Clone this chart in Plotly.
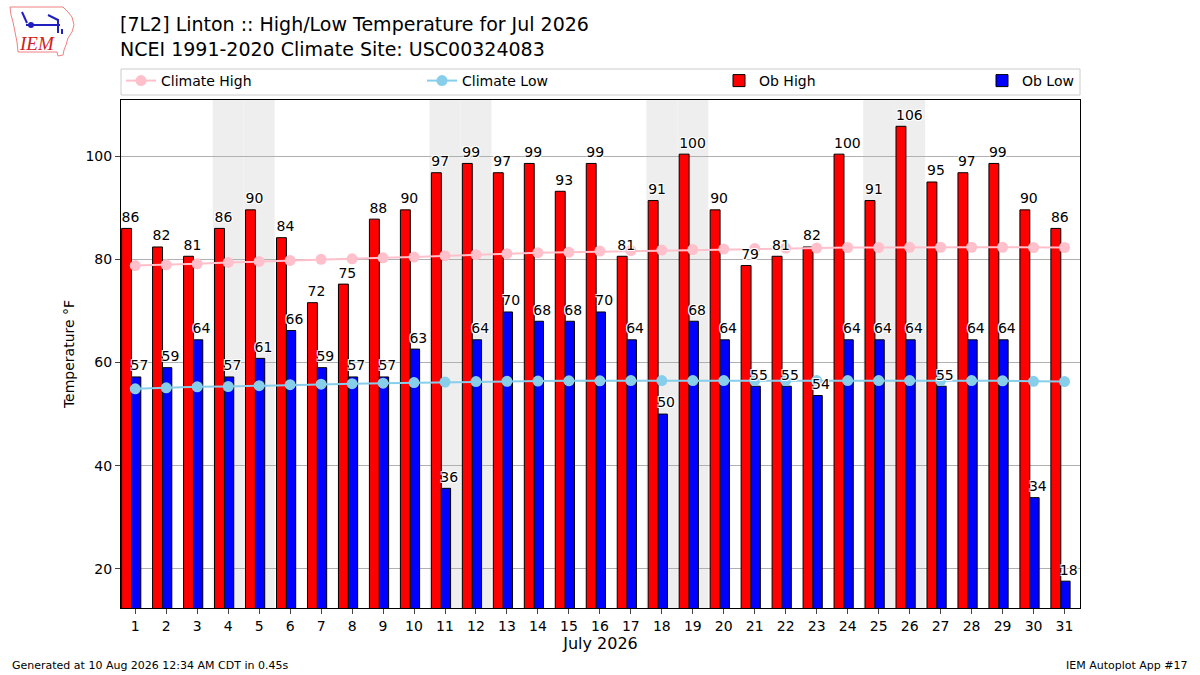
import datetime
import plotly.graph_objects as go

# July 2026 daily observations (deg F)
days = list(range(1, 32))
ob_high = [86.0, 82.4, 80.6, 86.0, 89.6, 84.2, 71.6, 75.2, 87.8, 89.6,
           96.8, 98.6, 96.8, 98.6, 93.2, 98.6, 80.6, 91.4, 100.4, 89.6,
           78.8, 80.6, 82.4, 100.4, 91.4, 105.8, 95.0, 96.8, 98.6, 89.6, 86.0]
ob_low = [57.2, 59.0, 64.4, 57.2, 60.8, 66.2, 59.0, 57.2, 57.2, 62.6,
          35.6, 64.4, 69.8, 68.0, 68.0, 69.8, 64.4, 50.0, 68.0, 64.4,
          55.4, 55.4, 53.6, 64.4, 64.4, 64.4, 55.4, 64.4, 64.4, 33.8, 17.6]
climate_high = [78.8, 78.95, 79.15, 79.4, 79.6, 79.8, 80.0, 80.1, 80.3, 80.45,
                80.7, 80.9, 81.1, 81.3, 81.4, 81.6, 81.7, 81.8, 81.9, 82.0,
                82.1, 82.2, 82.2, 82.3, 82.3, 82.35, 82.35, 82.35, 82.35, 82.3, 82.3]
climate_low = [54.9, 55.1, 55.3, 55.35, 55.5, 55.7, 55.8, 55.9, 56.0, 56.1,
               56.2, 56.3, 56.35, 56.4, 56.45, 56.45, 56.5, 56.5, 56.5, 56.5,
               56.5, 56.5, 56.5, 56.5, 56.5, 56.5, 56.5, 56.5, 56.45, 56.35, 56.3]

title = ("[7L2] Linton :: High/Low Temperature for Jul 2026<br>"
         "NCEI 1991-2020 Climate Site: USC00324083")

FONT = "DejaVu Sans"
W, H = 1200, 675
L, R, T, B = 121, 120, 100, 67
PW, PH = W - L - R, H - T - B


def px(x):
    # page pixel -> paper x
    return (x - L) / PW


def py(y):
    # page pixel (from top) -> paper y
    return 1 + (T - y) / PH


HI_OFF, HI_W = -0.44, 0.32
LO_OFF, LO_W = -0.12, 0.30
halo = "1px 1px 0 white, -1px -1px 0 white, 1px -1px 0 white, -1px 1px 0 white"

fig = go.Figure()

# observed bars
fig.add_trace(go.Bar(x=days, y=ob_high, offset=HI_OFF, width=HI_W,
                     marker=dict(color="red", line=dict(color="black", width=1)),
                     name="Ob High", legend="legend3"))
fig.add_trace(go.Bar(x=days, y=ob_low, offset=LO_OFF, width=LO_W,
                     marker=dict(color="blue", line=dict(color="black", width=1)),
                     name="Ob Low", legend="legend4"))

# climatology lines
fig.add_trace(go.Scatter(x=days, y=climate_high, mode="lines+markers",
                         line=dict(color="pink", width=2),
                         marker=dict(color="pink", size=11),
                         name="Climate High", legend="legend"))
fig.add_trace(go.Scatter(x=days, y=climate_low, mode="lines+markers",
                         line=dict(color="skyblue", width=2),
                         marker=dict(color="skyblue", size=11),
                         name="Climate Low", legend="legend2"))

# value labels, left aligned on each bar
for xs, vals in (([d + HI_OFF for d in days], ob_high),
                 ([d + LO_OFF - 0.03 for d in days], ob_low)):
    fig.add_trace(go.Scatter(x=xs, y=[v + 0.6 for v in vals], mode="text",
                             text=[f"{v:.0f}" for v in vals], textposition="top right",
                             textfont=dict(family=FONT, size=14, color="black", shadow=halo),
                             showlegend=False, hoverinfo="skip", cliponaxis=False))

# weekend shading
for d in days:
    if datetime.date(2026, 7, d).weekday() >= 5:
        fig.add_shape(type="rect", xref="x", yref="paper", x0=d - 0.5, x1=d + 0.5,
                      y0=0, y1=1, fillcolor="#eeeeee", line_width=0, layer="below")

# legend frame
fig.add_shape(type="rect", xref="paper", yref="paper", x0=px(121), x1=px(1080),
              y0=py(95), y1=py(69), line=dict(color="#cccccc", width=1),
              fillcolor="rgba(0,0,0,0)")

# IEM logo (rough outline)
ax0, ay0 = px(0), py(0)
iowa = [(10, 7), (63, 7), (68, 12), (72, 17), (74, 25), (72, 32), (68, 38),
        (66, 45), (64, 50), (63, 55), (58, 56), (57, 52), (18, 52), (17, 42),
        (15, 32), (13, 22), (11, 15)]
path = "M " + " L ".join(f"{x},{-y}" for x, y in iowa) + " Z"
fig.add_shape(type="path", xref="paper", yref="paper", xsizemode="pixel",
              ysizemode="pixel", xanchor=ax0, yanchor=ay0, path=path,
              line=dict(color="#f08080", width=1))
for seg in [[(26, 25), (60, 25)], [(58, 19), (58, 33)], [(48, 15), (58, 20)],
            [(22, 12), (27, 23)], [(62, 29), (62, 34)]]:
    p = "M " + " L ".join(f"{x},{-y}" for x, y in seg)
    fig.add_shape(type="path", xref="paper", yref="paper", xsizemode="pixel",
                  ysizemode="pixel", xanchor=ax0, yanchor=ay0, path=p,
                  line=dict(color="#2020c0", width=2))
fig.add_shape(type="circle", xref="paper", yref="paper", xsizemode="pixel",
              ysizemode="pixel", xanchor=ax0, yanchor=ay0, x0=28, x1=34, y0=-28, y1=-22,
              fillcolor="#2020c0", line_width=0)

legend_common = dict(orientation="h", xanchor="left", yanchor="middle", y=py(81),
                     bgcolor="rgba(0,0,0,0)", borderwidth=0,
                     font=dict(family=FONT, size=14))

fig.update_layout(
    width=W, height=H,
    margin=dict(l=L, r=R, t=T, b=B, autoexpand=False),
    paper_bgcolor="white", plot_bgcolor="white",
    font=dict(family=FONT, size=13, color="black"),
    barmode="overlay",
    legend=dict(legend_common, x=px(121)),
    legend2=dict(legend_common, x=px(422)),
    legend3=dict(legend_common, x=px(719)),
    legend4=dict(legend_common, x=px(982)),
    xaxis=dict(range=[0.54, 31.5], tickmode="array", tickvals=days,
               ticks="outside", ticklen=5, showgrid=False, zeroline=False,
               showline=True, linecolor="black", linewidth=1, mirror=True,
               tickfont=dict(size=14),
               title=dict(text="July 2026", font=dict(size=16), standoff=4)),
    yaxis=dict(range=[12.4, 110.9], tickvals=[20, 40, 60, 80, 100],
               ticks="outside", ticklen=5, showgrid=True, gridcolor="#b0b0b0",
               zeroline=False, showline=True, linecolor="black", linewidth=1,
               mirror=True, tickfont=dict(size=14),
               title=dict(text="Temperature °F", font=dict(size=14), standoff=7)),
    annotations=[
        dict(text=title, xref="paper", yref="paper", x=px(118), y=py(36),
             xanchor="left", yanchor="middle", align="left", showarrow=False,
             font=dict(family=FONT, size=19, color="black")),
        dict(text="<i>IEM</i>", xref="paper", yref="paper", x=px(37), y=py(44),
             xanchor="center", yanchor="middle", showarrow=False,
             font=dict(family="Liberation Serif", size=19, color="#d02020")),
        dict(text="Generated at 10 Aug 2026 12:34 AM CDT in 0.45s", xref="paper",
             yref="paper", x=px(10), y=py(665), xanchor="left", yanchor="middle",
             showarrow=False, font=dict(size=11)),
        dict(text="IEM Autoplot App #17", xref="paper", yref="paper",
             x=px(1190), y=py(665), xanchor="right", yanchor="middle",
             showarrow=False, font=dict(size=11)),
    ],
)

fig.write_html("out.html", config={"displayModeBar": False},
               post_script="document.body.style.margin='0';")
